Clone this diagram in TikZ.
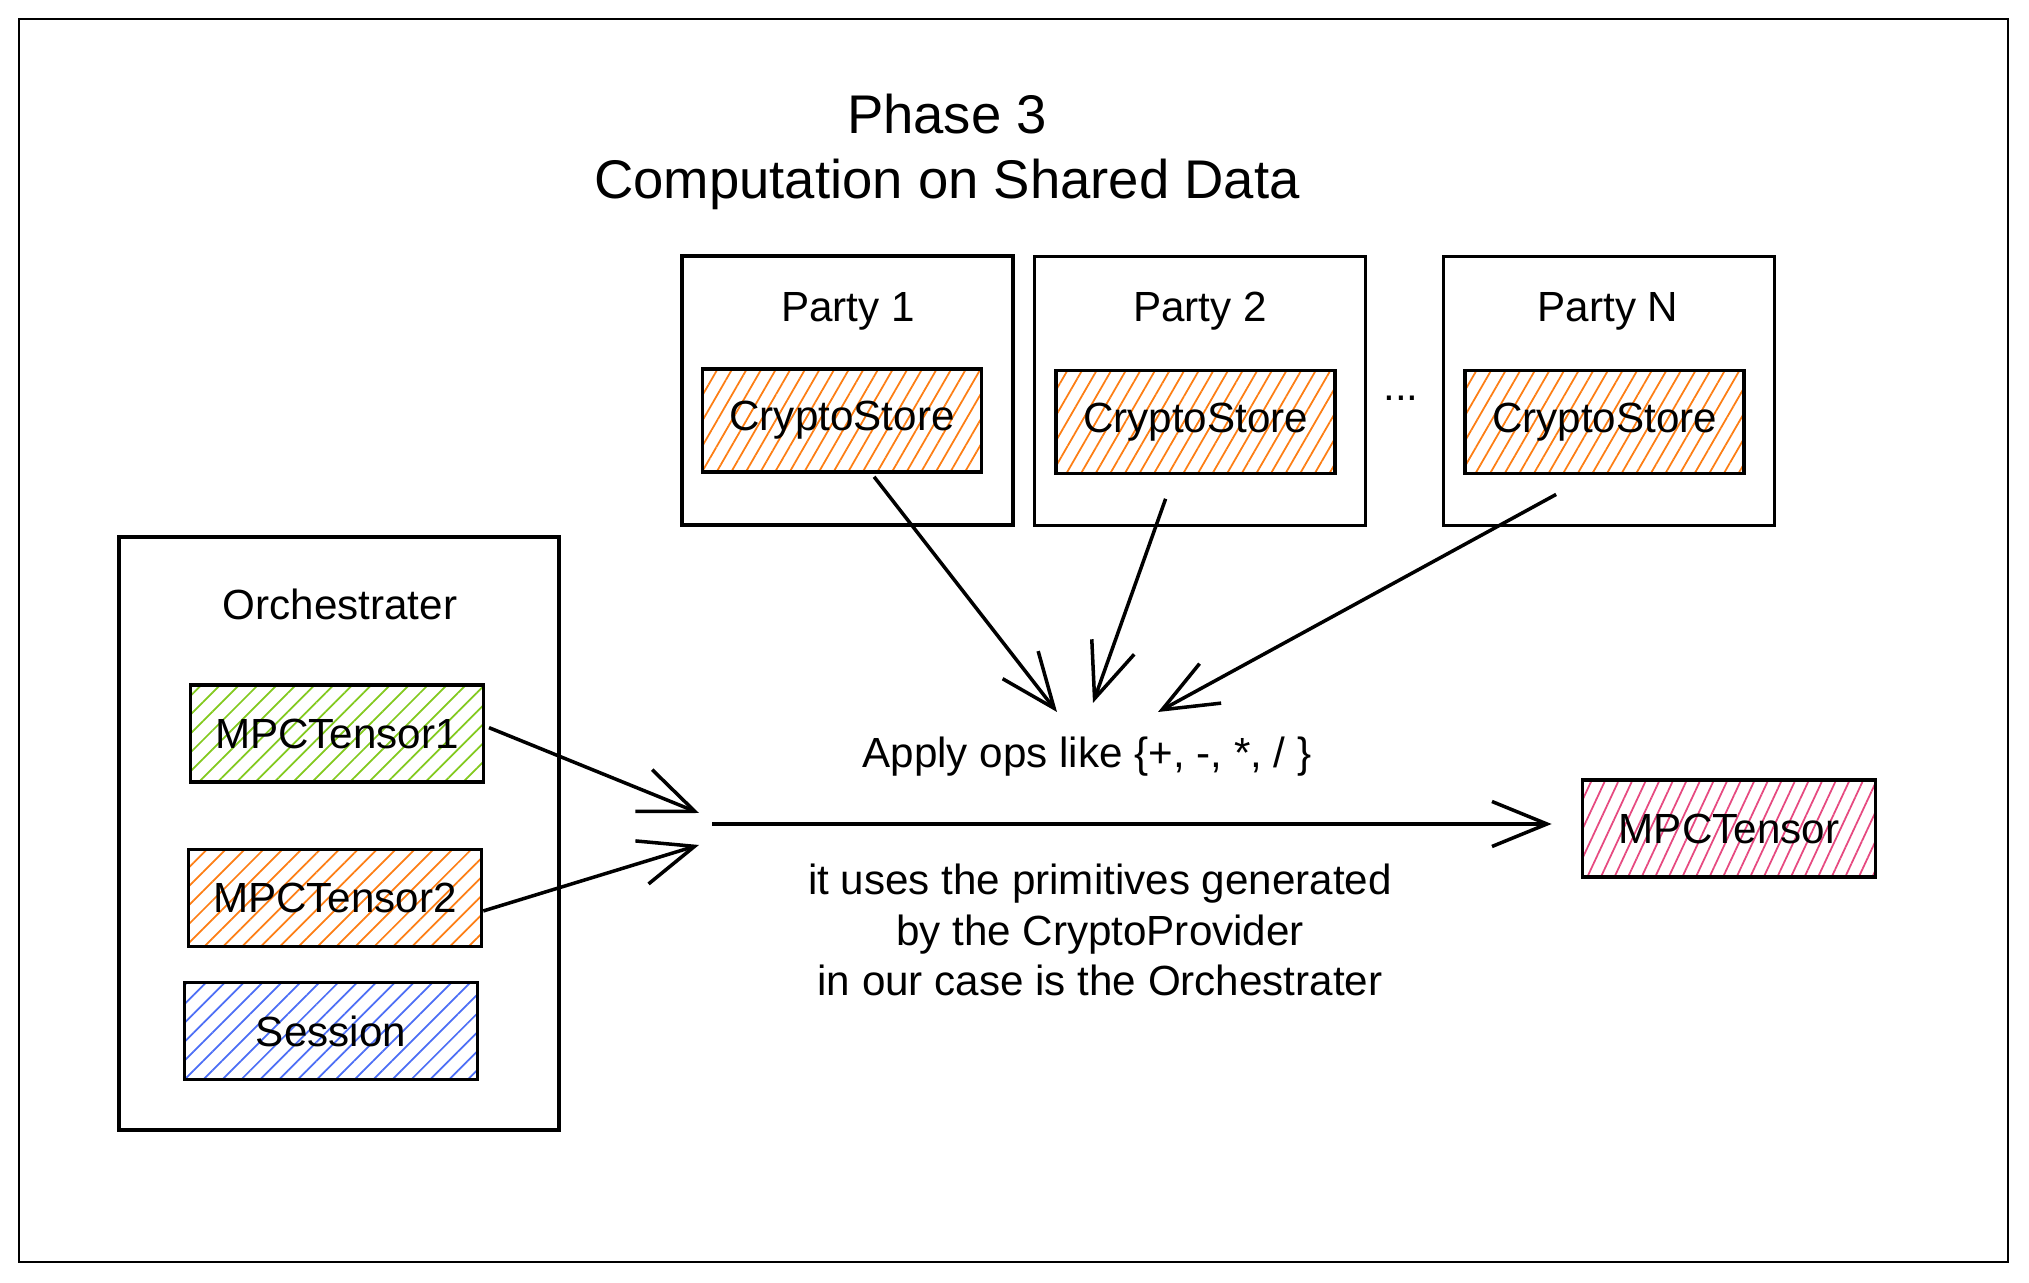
\documentclass[tikz,border=0pt]{standalone}
\usepackage{fontspec}
\setmainfont{Liberation Sans}
\usetikzlibrary{arrows.meta,patterns.meta,positioning}
\definecolor{hgreen}{HTML}{82C91E}
\definecolor{horange}{HTML}{FD7E14}
\definecolor{hblue}{HTML}{4C6EF5}
\definecolor{hpink}{HTML}{E64980}

\begin{document}
\begin{tikzpicture}[
            y=-1cm,
            party/.style={draw,line width=1pt,minimum width=3.31cm,minimum height=2.69cm},
            store/.style={draw,line width=1pt,minimum width=2.79cm,minimum height=1.03cm,
                pattern={Lines[angle=60,distance=3.6pt,line width=0.5pt]},pattern color=horange},
            tensor/.style={draw,line width=1pt,minimum width=2.93cm,minimum height=0.97cm,
                pattern={Lines[angle=45,distance=3.8pt,line width=0.5pt]},pattern color=#1},
            txt/.style={font=\fontsize{12}{14.4}\selectfont},
            conn/.style={line width=1pt,-{Straight Barb[length=5.5mm,width=4.5mm]}}
        ]
            \useasboundingbox (0,0) rectangle (20.29,12.83);
            \draw [line width=0.7pt] (0.19,0.19) rectangle (20.08,12.62);

            \node [align=center,font=\fontsize{15.5}{18.5}\selectfont] (title) at (9.47,1.52)
                {Phase 3\\Computation on Shared Data};

            % parties
            \node [party] (p1) at (8.475,3.905) {};
            \node [party] (p2) at (12.0,3.91) {};
            \node [party] (pn) at (16.09,3.91) {};
            \node [txt] (p1lbl) at (8.48,3.11) {Party 1};
            \node [txt] (p2lbl) at (12.0,3.11) {Party 2};
            \node [txt] (pnlbl) at (16.08,3.11) {Party N};
            \node [store,txt] (cs1) at (8.42,4.205) {CryptoStore};
            \node [store,txt] (cs2) at (11.955,4.22) {CryptoStore};
            \node [store,txt] (csn) at (16.045,4.22) {CryptoStore};
            \node [txt] (dots) at (14.01,3.98) {...};

            % orchestrater
            \node [party,minimum width=4.40cm,minimum height=5.93cm] (orch) at (3.39,8.335) {};
            \node [txt] (orchlbl) at (3.40,6.04) {Orchestrater};
            \node [tensor=hgreen,txt] (t1) at (3.37,7.335) {MPCTensor1};
            \node [tensor=horange,txt] (t2) at (3.35,8.98) {MPCTensor2};
            \node [tensor=hblue,txt] (sess) at (3.31,10.31) {Session};

            \node [tensor=hpink,pattern={Lines[angle=65,distance=3.5pt,line width=0.5pt]},txt] (res) at (17.29,8.285) {MPCTensor};

            \node [txt] (ops) at (10.87,7.57) {Apply ops like \{+, -, *, / \}};
            \node [txt,align=center] (note) at (11.0,9.30)
                {it uses the primitives generated\\by the CryptoProvider\\in our case is the Orchestrater};

            % arrows
            \coordinate (src) at (7.12,8.24);
            \coordinate (in1) at (6.99,8.13);
            \coordinate (in2) at (6.99,8.45);
            \coordinate (hit1) at (10.57,7.12);
            \coordinate (hit2) at (10.93,7.03);
            \coordinate (hitn) at (11.58,7.12);

            \draw [conn,shorten >=3mm] (src) -- (src -| res.west);
            \draw [conn,shorten <=0.5mm] (t1.3) -- (in1);
            \draw [conn] (t2.-5) -- (in2);
            \draw [conn,shorten <=0.5mm] (cs1.-61) -- (hit1);
            \draw [conn,shorten <=2.5mm] (cs2.-112) -- (hit2);
            \draw [conn,shorten <=4mm] (csn.-104) -- (hitn);
        \end{tikzpicture}
\end{document}
